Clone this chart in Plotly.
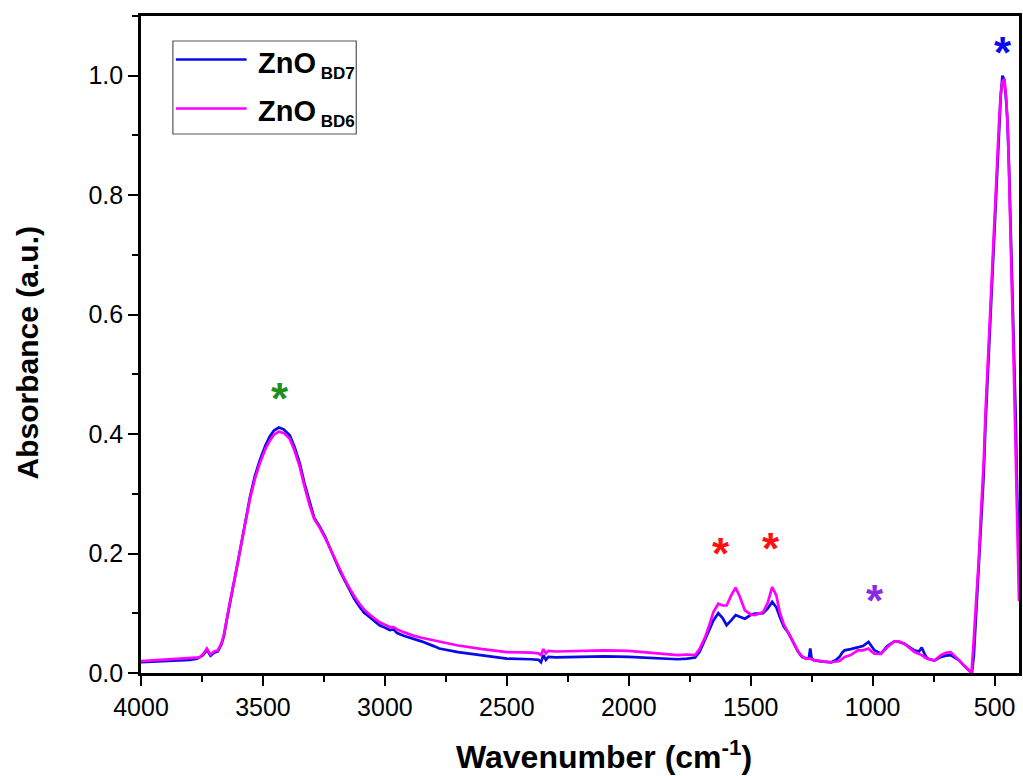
import plotly.graph_objects as go

# FTIR absorbance spectra of the two ZnO samples
wn_bd7 = [4000, 3950, 3900, 3850, 3800, 3770, 3745, 3730, 3715, 3700, 3685, 3670, 3660, 3650,
          3635, 3615, 3594, 3575, 3553, 3533, 3513, 3490, 3472, 3455, 3435, 3415, 3390, 3370,
          3349, 3330, 3308, 3290, 3267, 3245, 3227, 3205, 3186, 3165, 3145, 3125, 3104, 3085,
          3063, 3040, 3022, 3000, 2980, 2965, 2950, 2920, 2887, 2850, 2800, 2777, 2700, 2600,
          2500, 2400, 2370, 2360, 2350, 2340, 2330, 2300, 2200, 2100, 2000, 1900, 1800, 1760,
          1728, 1710, 1687, 1670, 1653, 1633, 1615, 1599, 1580, 1562, 1545, 1524, 1500, 1483,
          1449, 1430, 1412, 1395, 1381, 1365, 1344, 1325, 1306, 1290, 1272, 1262, 1256, 1250,
          1238, 1200, 1170, 1150, 1136, 1125, 1115, 1090, 1061, 1040, 1017, 1005, 993, 966,
          940, 911, 890, 870, 845, 829, 810, 799, 785, 775, 747, 720, 700, 680, 660, 645, 625,
          611, 598, 593, 585, 575, 565, 557, 545, 537, 526, 516, 505, 496, 488, 482, 475, 468,
          462, 455, 448, 441, 434, 427, 420, 413, 409, 404, 400]
abs_bd7 = [0.018, 0.019, 0.020, 0.021, 0.022, 0.024, 0.030, 0.039, 0.029, 0.034, 0.036, 0.048,
           0.062, 0.085, 0.120, 0.160, 0.205, 0.250, 0.295, 0.330, 0.356, 0.381, 0.396, 0.406,
           0.411, 0.408, 0.398, 0.378, 0.351, 0.318, 0.284, 0.260, 0.245, 0.228, 0.211, 0.190,
           0.172, 0.155, 0.139, 0.124, 0.111, 0.101, 0.094, 0.087, 0.080, 0.076, 0.072, 0.073,
           0.067, 0.062, 0.058, 0.053, 0.045, 0.041, 0.035, 0.029, 0.024, 0.023, 0.022, 0.018,
           0.030, 0.022, 0.027, 0.026, 0.027, 0.028, 0.027, 0.025, 0.023, 0.024, 0.026, 0.035,
           0.055, 0.072, 0.088, 0.100, 0.092, 0.080, 0.088, 0.097, 0.094, 0.091, 0.097, 0.0995,
           0.100, 0.108, 0.119, 0.110, 0.094, 0.078, 0.066, 0.050, 0.036, 0.027, 0.024, 0.024,
           0.041, 0.024, 0.021, 0.019, 0.018, 0.022, 0.027, 0.034, 0.038, 0.040, 0.0436, 0.045,
           0.052, 0.045, 0.038, 0.0325, 0.045, 0.053, 0.052, 0.049, 0.043, 0.038, 0.036, 0.0425,
           0.030, 0.024, 0.021, 0.027, 0.029, 0.030, 0.025, 0.021, 0.012, 0.007, 0.001, 0.000,
           0.030, 0.100, 0.170, 0.240, 0.330, 0.420, 0.520, 0.590, 0.700, 0.780, 0.860, 0.910,
           0.965, 1.000, 0.995, 0.970, 0.930, 0.850, 0.747, 0.630, 0.524, 0.420, 0.330, 0.240,
           0.170]

wn_bd6 = [4000, 3900, 3800, 3760, 3745, 3730, 3715, 3700, 3685, 3670, 3660, 3650, 3635, 3615,
          3594, 3575, 3553, 3533, 3513, 3490, 3472, 3455, 3435, 3415, 3390, 3370, 3349, 3330,
          3308, 3290, 3267, 3245, 3227, 3205, 3186, 3165, 3145, 3125, 3104, 3085, 3063, 3040,
          3022, 3000, 2980, 2965, 2950, 2920, 2887, 2850, 2800, 2777, 2700, 2600, 2500, 2400,
          2370, 2360, 2350, 2340, 2330, 2300, 2200, 2100, 2000, 1900, 1800, 1760, 1728, 1710,
          1687, 1670, 1653, 1633, 1615, 1599, 1580, 1562, 1545, 1524, 1500, 1483, 1449, 1430,
          1412, 1395, 1381, 1365, 1344, 1325, 1306, 1290, 1272, 1256, 1238, 1200, 1170, 1136,
          1115, 1090, 1061, 1040, 1017, 1005, 993, 966, 940, 911, 890, 870, 845, 829, 810, 799,
          785, 775, 747, 720, 700, 680, 660, 645, 625, 611, 598, 595, 588, 575, 565, 557, 545,
          537, 526, 516, 505, 496, 488, 482, 475, 468, 460, 452, 445, 438, 431, 424, 417, 411,
          405, 400]
abs_bd6 = [0.020, 0.022, 0.024, 0.026, 0.032, 0.041, 0.031, 0.036, 0.038, 0.050, 0.064, 0.087,
           0.120, 0.160, 0.205, 0.248, 0.292, 0.325, 0.351, 0.375, 0.389, 0.399, 0.404, 0.402,
           0.392, 0.372, 0.345, 0.313, 0.280, 0.258, 0.243, 0.226, 0.210, 0.190, 0.173, 0.157,
           0.142, 0.128, 0.116, 0.106, 0.098, 0.091, 0.085, 0.081, 0.077, 0.077, 0.073, 0.068,
           0.063, 0.059, 0.055, 0.052, 0.046, 0.040, 0.035, 0.034, 0.033, 0.030, 0.040, 0.033,
           0.037, 0.036, 0.037, 0.038, 0.037, 0.034, 0.030, 0.031, 0.030, 0.040, 0.060, 0.080,
           0.102, 0.116, 0.113, 0.113, 0.130, 0.143, 0.128, 0.105, 0.098, 0.097, 0.102, 0.118,
           0.144, 0.130, 0.102, 0.082, 0.066, 0.050, 0.036, 0.028, 0.024, 0.024, 0.021, 0.019,
           0.018, 0.020, 0.027, 0.030, 0.038, 0.038, 0.041, 0.036, 0.0325, 0.032, 0.043, 0.053,
           0.052, 0.049, 0.040, 0.035, 0.032, 0.030, 0.026, 0.024, 0.021, 0.030, 0.034, 0.035,
           0.027, 0.021, 0.012, 0.006, 0.001, 0.000, 0.040, 0.120, 0.190, 0.260, 0.350, 0.440,
           0.540, 0.610, 0.720, 0.800, 0.870, 0.920, 0.970, 0.990, 0.995, 0.960, 0.900, 0.800,
           0.680, 0.560, 0.430, 0.320, 0.200, 0.120]

# band markers (asterisks) above the main absorption bands
star_wn = [3431, 1622, 1415, 990, 465]
star_abs = [0.476, 0.217, 0.226, 0.138, 1.055]
star_colors = ["#1f8f1f", "#ff1010", "#ff1010", "#8a2be2", "#0a0af0"]

x_ticks = [4000, 3500, 3000, 2500, 2000, 1500, 1000, 500]
y_ticks = [0.0, 0.2, 0.4, 0.6, 0.8, 1.0]

series_names = ["ZnO", "ZnO"]
series_subs = ["BD7", "BD6"]
series_colors = ["#0a0ae6", "#ff00ff"]

FONT = "Liberation Sans, Arial, sans-serif"

# plot area in pixels (for placing the hand-drawn legend and titles)
W, H = 1023, 776
L, R, T, B = 141, 1, 16, 103
PW, PH = W - L - R, H - T - B


def px(x):
    return (x - L) / PW


def py(y):
    return (H - B - y) / PH


fig = go.Figure()
fig.add_trace(go.Scatter(x=wn_bd7, y=abs_bd7, mode="lines",
                         line=dict(color=series_colors[0], width=2.7),
                         name="ZnO BD7", showlegend=False))
fig.add_trace(go.Scatter(x=wn_bd6, y=abs_bd6, mode="lines",
                         line=dict(color=series_colors[1], width=2.7),
                         name="ZnO BD6", showlegend=False))

annotations = []
for wn, a, c in zip(star_wn, star_abs, star_colors):
    annotations.append(dict(x=wn, y=a, xref="x", yref="y", text="<b>*</b>",
                            showarrow=False, font=dict(family=FONT, size=44, color=c),
                            xanchor="center", yanchor="middle", yshift=-10))

# legend box
shapes = [dict(type="rect", xref="paper", yref="paper",
               x0=px(173), x1=px(357), y0=py(134), y1=py(41),
               line=dict(color="#555555", width=1.2), fillcolor="white")]
for i, (nm, sub, col) in enumerate(zip(series_names, series_subs, series_colors)):
    yl = 59.5 + i * 49
    shapes.append(dict(type="line", xref="paper", yref="paper",
                       x0=px(176), x1=px(247), y0=py(yl), y1=py(yl),
                       line=dict(color=col, width=2.7)))
    annotations.append(dict(x=px(256), y=py(yl + 5), xref="paper", yref="paper",
                            text=(f"<b>{nm}<sub><span style='font-size:17px'> {sub}</span>"
                                  f"</sub></b>"),
                            showarrow=False, xanchor="left", yanchor="middle",
                            font=dict(family=FONT, size=29, color="black")))

# axis titles
annotations.append(dict(x=px(606), y=py(755), xref="paper", yref="paper",
                        text="<b>Wavenumber (cm<sup>-1</sup>)</b>", showarrow=False,
                        xanchor="center", yanchor="middle",
                        font=dict(family=FONT, size=32, color="black")))
annotations.append(dict(x=px(27), y=py(353), xref="paper", yref="paper",
                        text="<b>Absorbance (a.u.)</b>", showarrow=False, textangle=-90,
                        xanchor="center", yanchor="middle",
                        font=dict(family=FONT, size=30, color="black")))

axis_common = dict(showline=True, linecolor="black", linewidth=2.6, mirror=True,
                   ticks="outside", ticklen=10, tickwidth=2.4, tickcolor="black",
                   showgrid=False, zeroline=False,
                   tickfont=dict(family=FONT, size=25, color="black"))

fig.update_layout(
    width=W, height=H,
    margin=dict(l=L, r=R, t=T, b=B),
    paper_bgcolor="white", plot_bgcolor="white",
    xaxis=dict(range=[4000, 400], tickvals=x_ticks,
               ticktext=[str(v) for v in x_ticks],
               minor=dict(dtick=250, ticks="outside", ticklen=6, tickwidth=2.4,
                          tickcolor="black"),
               **axis_common),
    yaxis=dict(range=[0, 1.1], tickvals=y_ticks,
               ticktext=[f"{v:.1f}" for v in y_ticks],
               minor=dict(dtick=0.1, ticks="outside", ticklen=6, tickwidth=2.4,
                          tickcolor="black"),
               **axis_common),
    shapes=shapes,
    annotations=annotations,
)

fig.write_html("out.html")
